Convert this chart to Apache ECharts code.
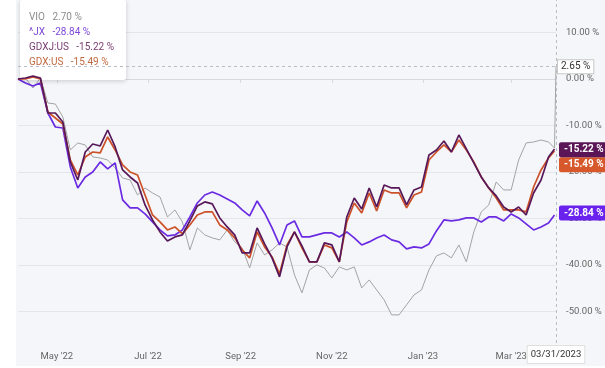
<!DOCTYPE html>
<html>
<head>
<meta charset="utf-8">
<script src="https://cdn.jsdelivr.net/npm/echarts@6/dist/echarts.min.js"></script>
<style>
html,body{margin:0;padding:0;background:#fff;width:605px;height:368px;overflow:hidden;}
#c{position:absolute;left:16px;top:0;width:589px;height:366px;background:#f5f6f9;}
</style>
</head>
<body>
<div id="c"></div>
<script>
const dates = [
'2022-04-05','2022-04-10','2022-04-15','2022-04-20','2022-04-25','2022-04-30',
'2022-05-05','2022-05-10','2022-05-15','2022-05-20','2022-05-25','2022-05-30',
'2022-06-04','2022-06-09','2022-06-14','2022-06-19','2022-06-24','2022-06-29',
'2022-07-04','2022-07-09','2022-07-14','2022-07-19','2022-07-24','2022-07-29',
'2022-08-03','2022-08-08','2022-08-13','2022-08-18','2022-08-23','2022-08-28',
'2022-09-02','2022-09-07','2022-09-12','2022-09-17','2022-09-22','2022-09-27',
'2022-10-02','2022-10-07','2022-10-12','2022-10-17','2022-10-22','2022-10-27',
'2022-11-01','2022-11-06','2022-11-11','2022-11-16','2022-11-21','2022-11-26',
'2022-12-01','2022-12-06','2022-12-11','2022-12-16','2022-12-21','2022-12-26','2022-12-31',
'2023-01-05','2023-01-10','2023-01-15','2023-01-20','2023-01-25','2023-01-30',
'2023-02-04','2023-02-09','2023-02-14','2023-02-19','2023-02-24',
'2023-03-01','2023-03-06','2023-03-11','2023-03-16','2023-03-21','2023-03-26','2023-03-30','2023-03-31'
];
const vio = [
0,0.22,-1.94,0.22,-5.16,-5.38,
-8.17,-15.27,-13.76,-14.19,-16.77,-16.99,
-17.42,-19.14,-21.29,-21.72,-24.95,-23.44,
-24.52,-25.38,-29.68,-28.17,-30.75,-36.77,
-32.04,-33.55,-34.19,-34.62,-32.47,-35.05,
-36.34,-40.65,-35.27,-37.85,-36.77,-35.27,
-36.13,-42.15,-46.02,-41.08,-40.00,-40.65,
-42.80,-40.43,-41.08,-40.43,-44.95,-43.23,
-45.38,-47.53,-50.75,-50.75,-48.60,-46.45,-45.38,
-41.08,-38.06,-37.42,-38.49,-35.70,-39.35,
-32.90,-28.60,-27.10,-22.15,-23.87,
-23.87,-17.42,-13.76,-13.55,-13.12,-13.55,-14.84,2.70
];
const jx = [
0,-0.86,-1.51,-0.86,-7.31,-10.32,
-10.54,-18.92,-23.44,-21.08,-20.00,-17.85,
-19.35,-18.06,-26.02,-27.74,-27.74,-29.03,
-30.75,-32.47,-33.76,-33.55,-32.47,-29.68,
-26.67,-24.95,-24.30,-24.95,-25.81,-26.67,
-28.17,-29.46,-26.24,-28.82,-32.04,-35.70,
-31.40,-30.54,-33.98,-33.98,-33.55,-33.12,
-33.12,-33.98,-32.90,-34.19,-35.70,-35.05,
-34.19,-33.55,-34.62,-35.05,-36.56,-36.13,-36.34,
-35.48,-32.69,-30.32,-30.54,-30.32,-29.89,
-29.89,-30.75,-29.68,-29.68,-30.54,
-29.03,-29.89,-31.18,-32.47,-31.83,-30.97,-29.25,-28.84
];
const gdxj = [
0,0.22,0.65,0.22,-7.31,-7.31,
-9.25,-17.85,-21.72,-15.70,-13.98,-14.41,
-10.97,-14.62,-19.57,-21.08,-22.37,-27.10,
-30.32,-32.90,-34.84,-33.98,-33.55,-30.54,
-27.31,-26.45,-26.88,-29.89,-31.83,-33.55,
-37.42,-37.42,-32.04,-35.48,-38.49,-42.58,
-36.13,-32.90,-35.91,-39.35,-39.35,-35.27,
-35.70,-39.35,-29.68,-25.59,-27.96,-23.44,
-27.53,-22.80,-23.44,-23.44,-27.10,-23.87,-23.23,
-16.34,-15.27,-13.33,-15.70,-12.04,-15.05,
-18.06,-21.08,-23.44,-25.16,-27.53,
-28.60,-27.53,-29.25,-24.52,-21.72,-16.77,-15.05,-15.22
];
const gdx = [
0,0,0.43,0,-7.10,-8.39,
-9.68,-17.42,-20.65,-16.77,-15.70,-15.91,
-12.47,-15.27,-18.49,-20.00,-20.65,-24.95,
-29.25,-30.75,-32.47,-31.83,-33.33,-31.40,
-29.25,-28.60,-28.60,-31.40,-32.47,-34.19,
-36.77,-38.49,-32.90,-36.13,-38.28,-41.94,
-35.70,-32.90,-36.34,-39.35,-39.35,-35.70,
-36.34,-39.35,-30.75,-26.67,-28.82,-24.52,
-28.39,-23.87,-24.52,-24.52,-27.74,-24.95,-24.30,
-17.42,-15.70,-14.19,-15.70,-13.12,-15.27,
-17.85,-21.08,-23.44,-25.59,-28.17,
-28.17,-28.17,-28.60,-23.23,-19.57,-16.99,-15.48,-15.49
];
const tickDates = ['2022-05-01','2022-07-01','2022-09-01','2022-11-01','2023-01-01','2023-03-01'];
const tickLabels = ["May '22","Jul '22","Sep '22","Nov '22","Jan '23","Mar '23"];
const crossValue = 2.65;
const crossDateLabel = '03/31/2023';

function ts(s){const p=s.split('-').map(Number);return Date.UTC(p[0],p[1]-1,p[2]);}
const tickTimes = tickDates.map(ts);
function pairs(arr){return arr.map((v,i)=>[ts(dates[i]),v]);}
const fmt = v => v.toFixed(2) + ' %';

const names = ['VIO','^JX','GDXJ:US','GDX:US'];
const arrays = [vio, jx, gdxj, gdx];
const lineColors = ['#a3a3a3','#6b2be3','#571859','#cc5128'];
const legendColors = ['#8c8c8c','#7e48d8','#7a3d70','#c0683f'];
const labelBg = [null,'#6a22ee','#5a1657','#d6582b'];
const font = 'Roboto, "DejaVu Sans", sans-serif';

const series = names.map((n,k)=>{
  const s = {
    name:n, type:'line', data:pairs(arrays[k]), showSymbol:false, symbol:'none',
    lineStyle:{color:lineColors[k], width:k===0?1:1.7},
    itemStyle:{color:lineColors[k]},
    z: k===0?2:(k===1?3:(k===2?5:4)),
    animation:false,
    labelLayout:{moveOverlap:'shiftY'}
  };
  if(k>0){
    s.endLabel = {show:true, formatter:p=>fmt(p.value[1]), color:'#fff', fontFamily:font,
      fontSize:10, fontWeight:'bold', backgroundColor:labelBg[k], padding:[3,4,2,5], borderRadius:2, distance:3};
  } else {
    s.markLine = {
      silent:true, symbol:'none', animation:false,
      lineStyle:{color:'#b9bdc6', type:[3,3], width:1},
      data:[
        {yAxis:crossValue, label:{show:true, position:'end', formatter:fmt(crossValue), color:'#333',
          fontFamily:font, fontSize:10, backgroundColor:'#fff', borderColor:'#c8c8c8', borderWidth:1, padding:[2,3,1,3], distance:2}},
        {xAxis:ts(dates[dates.length-1]), label:{show:true, position:'start', formatter:crossDateLabel, color:'#333',
          fontFamily:font, fontSize:9.5, backgroundColor:'#fff', borderColor:'#e0e0e0', borderWidth:1, padding:[4,3,3,3], distance:3}}
      ]
    };
  }
  return s;
});

const chart = echarts.init(document.getElementById('c'), null, {renderer:'canvas'});
chart.setOption({
  backgroundColor:'transparent',
  animation:false,
  grid:{left:2, right:49, top:0, bottom:23},
  legend:{
    orient:'vertical', left:4, top:0, selectedMode:false,
    icon:'none', itemWidth:0, itemHeight:10, itemGap:5,
    padding:[12,12,13,4],
    backgroundColor:'#fff', borderRadius:2,
    shadowColor:'rgba(0,0,0,0.18)', shadowBlur:5, shadowOffsetY:1,
    data:names.map((n,k)=>({name:n, textStyle:{color:legendColors[k]}})),
    formatter:n=>{const a=arrays[names.indexOf(n)];return n+'   '+fmt(a[a.length-1]);},
    textStyle:{fontFamily:font, fontSize:10}
  },
  xAxis:{
    type:'value', min:ts(dates[0]), max:ts(dates[dates.length-1]),
    axisLine:{show:true, lineStyle:{color:'#d6d9df'}},
    axisTick:{show:true, customValues:tickTimes, length:4, lineStyle:{color:'#d6d9df'}},
    axisLabel:{customValues:tickTimes, formatter:v=>{const i=tickTimes.indexOf(v);return i>=0?tickLabels[i]:'';},
      color:'#666', fontFamily:font, fontSize:9.5, margin:9},
    splitLine:{show:false}
  },
  yAxis:{
    type:'value', position:'right', min:-56.8, max:17.0, splitNumber:7,
    axisLine:{show:false}, axisTick:{show:false},
    axisLabel:{formatter:fmt, color:'#666', fontFamily:font, fontSize:9.5, margin:10, showMinLabel:false, showMaxLabel:false},
    splitLine:{lineStyle:{color:'#e4e6eb'}, showMinLine:false, showMaxLine:false}
  },
  series:series
});
</script>
</body>
</html>
